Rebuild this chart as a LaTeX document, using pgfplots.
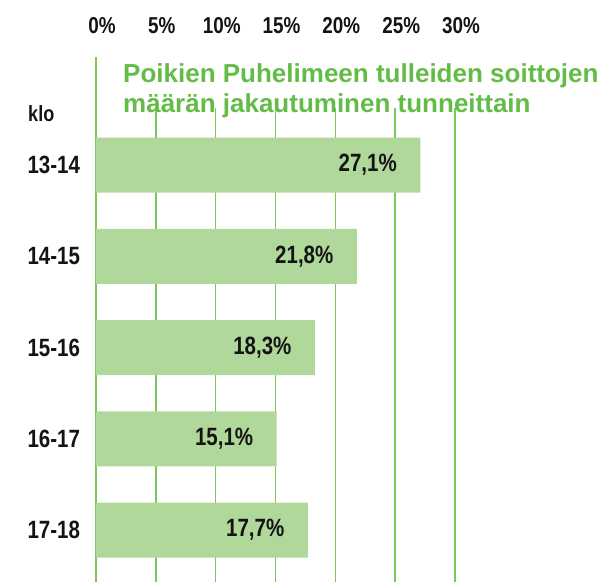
\documentclass[border=0pt]{standalone}
\usepackage{fontspec}
\setmainfont{Liberation Sans}[FakeStretch=0.82]
\newfontfamily\titlefont{Liberation Sans}
\usepackage{pgfplots}
\pgfplotsset{compat=1.18}
\definecolor{barg}{HTML}{B0D89A}
\definecolor{gridg}{HTML}{78C85A}
\definecolor{titg}{HTML}{63BC46}
\definecolor{txt}{HTML}{141414}
\begin{document}
\begin{tikzpicture}
\begin{axis}[
  scale only axis, width=359pt, height=525pt,
  xmin=0, xmax=30, ymin=-1.1836, ymax=4.57, y dir=reverse,
  axis line style={draw=none},
  xmajorgrids, major grid style={draw=gridg, line width=1.6pt},
  xtick={0,5,...,30}, xticklabels={0\%,5\%,10\%,15\%,20\%,25\%,30\%},
  xticklabel pos=upper,
  major tick length=0pt,
  x tick label style={anchor=base, yshift=24pt, xshift=6pt, font=\fontsize{23}{23}\selectfont\bfseries, text=txt},
  ytick={0,1,2,3,4}, yticklabels={13-14,14-15,15-16,16-17,17-18},
  y tick label style={anchor=west, xshift=-72pt, font=\fontsize{25}{25}\selectfont\bfseries, text=txt},
  clip=false,
]
\addplot[xbar, fill=barg, draw=none, bar width=55pt,
  point meta=explicit symbolic, nodes near coords,
  nodes near coords style={anchor=east, xshift=-20pt, font=\fontsize{25}{25}\selectfont\bfseries, text=txt}]
  coordinates {(27.1,0) [27,1\%] (21.8,1) [21,8\%] (18.3,2) [18,3\%] (15.1,3) [15,1\%] (17.7,4) [17,7\%]};
\fill[white] (axis cs:0.35,-1.19) rectangle (axis cs:42.2,-0.6247);
\node[anchor=base west, inner sep=0pt, text=titg, font=\titlefont\fontsize{26}{30}\selectfont\bfseries] at (axis cs:2.256,-0.9096) {Poikien Puhelimeen tulleiden soittojen};
\node[anchor=base west, inner sep=0pt, text=titg, font=\titlefont\fontsize{26}{30}\selectfont\bfseries] at (axis cs:2.256,-0.5808) {määrän jakautuminen tunneittain};
\node[anchor=base west, inner sep=0pt, text=txt, font=\fontsize{22}{22}\selectfont\bfseries] at (axis cs:-5.68,-0.482) {klo};
\end{axis}
\pgfresetboundingbox
\path (-96pt,0pt) rectangle (503pt,582pt);
\end{tikzpicture}
\end{document}
